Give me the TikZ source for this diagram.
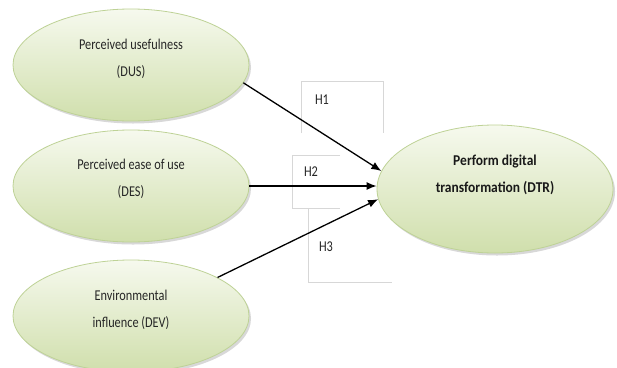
\documentclass[tikz,border=0pt]{standalone}
\usepackage{fontspec}
\setmainfont{Carlito}
\newfontfamily\narrowfont[FakeStretch=0.82]{Carlito}
\newfontfamily\narrowbold[FakeStretch=0.9]{Carlito Bold}
\usetikzlibrary{shapes.geometric,arrows.meta,shadows}
\definecolor{ftop}{RGB}{246,249,238}
\definecolor{fbot}{RGB}{208,223,172}
\definecolor{edge}{RGB}{190,210,150}
\definecolor{boxline}{RGB}{215,215,215}
\tikzset{
  bubble/.style={ellipse, draw=edge, line width=0.8pt, top color=ftop, bottom color=fbot,
    minimum width=236pt, minimum height=112pt, inner sep=0pt,
    drop shadow={shadow xshift=2pt, shadow yshift=-2.5pt, opacity=0.25, fill=black!60}},
  txt/.style={align=center, font=\narrowfont\fontsize{15}{26.5}\selectfont, text=black!85},
  btxt/.style={align=center, font=\narrowbold\fontsize{15}{26.5}\selectfont, text=black!90},
  hyp/.style={font=\narrowfont\fontsize{15}{16}\selectfont, text=black!85, inner sep=0pt},
  conn/.style={line width=1.3pt, -{Latex[length=10pt,width=8pt]}},
  lbox/.style={draw=boxline, line width=0.7pt}
}
\begin{document}
\begin{tikzpicture}[x=1pt,y=-1pt]
\useasboundingbox[fill=white] (0,0) rectangle (617,367);
% label boxes
\draw[lbox] (301,133) -- (301,81) -- (383,81) -- (383,133);
\draw[lbox] (340,155) -- (292,155) -- (292,208) -- (340,208);
\draw[lbox] (308,208) -- (308,282) -- (392,282);
% ellipses
\node[bubble] (dus) at (131,65) {};
\node[bubble] (des) at (131,186) {};
\node[bubble] (dev) at (131,316) {};
\node[bubble, minimum height=128pt] (dtr) at (495,189) {};
\node[txt] (dust) at (131,59) {Perceived usefulness\\(DUS)};
\node[txt] (dest) at (131,179) {Perceived ease of use\\(DES)};
\node[txt] (devt) at (131,310) {Environmental\\influence (DEV)};
\node[btxt] (dtrt) at (495,175) {Perform digital\\transformation (DTR)};
% hypothesis labels
\node[hyp] (h1) at (322,100) {H1};
\node[hyp] (h2) at (311,172) {H2};
\node[hyp] (h3) at (326,247) {H3};
% connectors
\draw[conn] (dus.-9) -- (dtr.171);
\draw[conn] (des.east) -- (dtr.west |- des.east);
\draw[conn] (dev.24) -- (dtr.185);
\end{tikzpicture}
\end{document}
